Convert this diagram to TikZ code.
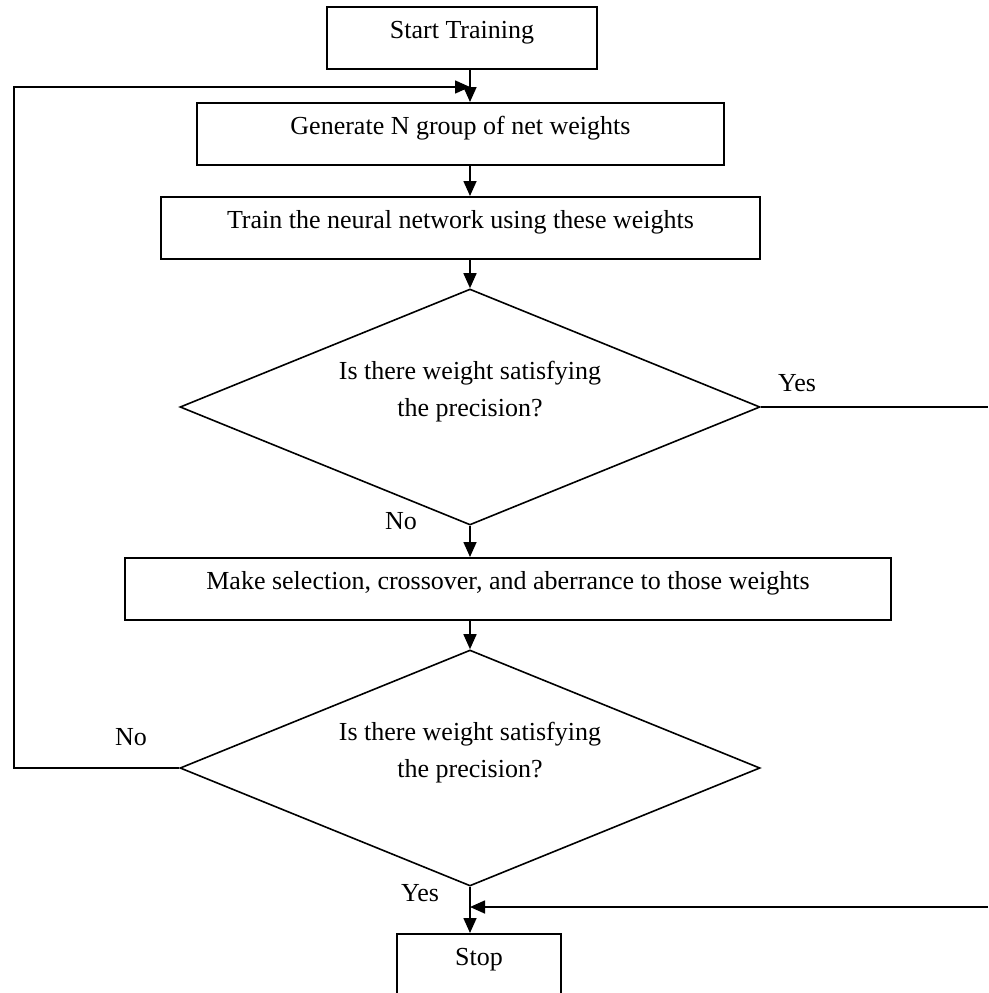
\documentclass[tikz,border=0pt]{standalone}
\usepackage{fontspec}
\setmainfont{Liberation Serif}
\usepackage{tikz}
\usetikzlibrary{arrows.meta,shapes.geometric}

\begin{document}
\begin{tikzpicture}[x=1pt, y=1pt, line width=1.6pt, font=\fontsize{26}{37}\selectfont]
\tikzstyle{block} = [rectangle, draw, anchor=north, inner ysep=0pt, text height=32pt, text depth=30pt, text centered]
\tikzstyle{decision} = [diamond, draw, minimum width=580pt, minimum height=236pt, inner sep=0pt]
\tikzstyle{dtext} = [align=center, yshift=15pt]
\tikzstyle{arrow} = [-{Triangle[length=15pt,width=13pt]}]

\useasboundingbox (0,0) rectangle (988,-993);

\node (start) [block, minimum width=270pt] at (462,-6) {Start Training};
\node (gen) [block, minimum width=527pt] at (460.5,-102) {Generate N group of net weights};
\node (train) [block, minimum width=599pt] at (460.5,-196) {Train the neural network using these weights};
\node (dec1) [decision, label={[dtext]center:Is there weight satisfying\\the precision?}] at (470,-407) {};
\node (sel) [block, minimum width=766pt] at (508,-557) {Make selection, crossover, and aberrance to those weights};
\node (dec2) [decision, label={[dtext]center:Is there weight satisfying\\the precision?}] at (470,-768) {};
\node (stop) [block, minimum width=164pt, text depth=40pt] at (479,-933) {Stop};

\node (yes1) at (797,-383) {Yes};
\node (no1) at (401,-521) {No};
\node (no2) at (131,-737) {No};
\node (yes2) at (420,-893) {Yes};

\coordinate (join) at (470,-87);
\coordinate (edgeL) at (14,0);
\coordinate (edgeR) at (988,0);
\coordinate (back) at (988,-907);

\draw[arrow] (start.south -| dec1) -- (gen.north -| dec1);
\draw[arrow] (gen.south -| dec1) -- (train.north -| dec1);
\draw[arrow] (train.south -| dec1) -- (dec1.north);
\draw[arrow] (dec1.south) -- (sel.north -| dec1);
\draw[arrow] (sel.south -| dec1) -- (dec2.north);
\draw[arrow] (dec2.south) -- (stop.north -| dec2);
\draw (dec1.east) -- (dec1.east -| edgeR);
\draw[arrow] (back) -- (back -| dec2);
\draw[arrow] (dec2.west) -- (dec2.west -| edgeL) |- (join);
\end{tikzpicture}
\end{document}
